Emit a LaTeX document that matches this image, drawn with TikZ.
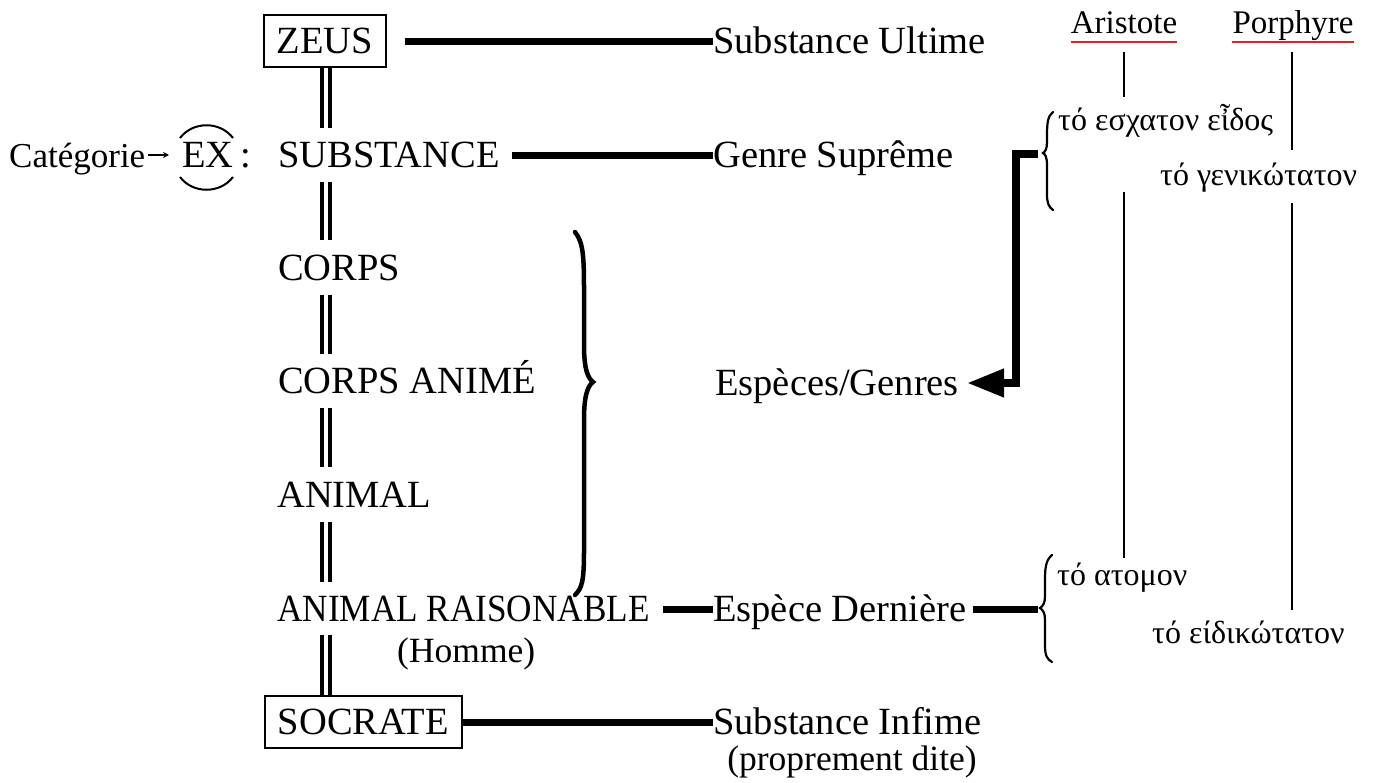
\documentclass[tikz,border=0pt]{standalone}
\usepackage{fontspec}
\usepackage{graphicx}
\setmainfont{Liberation Serif}
\usetikzlibrary{arrows.meta,calc}
\newcommand\mainsz{\fontsize{38.5}{44}\selectfont}
\newcommand\subsz{\fontsize{35.5}{40}\selectfont}
\newcommand\hdsz{\fontsize{33}{38}\selectfont}
\newcommand\catsz{\fontsize{35}{40}\selectfont}
\newcommand\grsz{\fontsize{32}{36}\selectfont}
\definecolor{ulred}{RGB}{228,30,38}
\begin{document}
\begin{tikzpicture}[x=1pt,y=-1pt,
  lbl/.style={inner sep=0pt, anchor=base west, text height=26pt, text depth=2pt, font=\mainsz},
  boxed/.style={draw, line width=1.6pt, inner xsep=13pt, inner ysep=12pt, anchor=base west, text height=26pt, text depth=2pt, font=\mainsz},
  sublbl/.style={inner sep=0pt, anchor=base, font=\subsz},
  hd/.style={inner sep=0pt, anchor=base, font=\hdsz},
  gr/.style={inner sep=0pt, anchor=base west, font=\grsz},
  thickline/.style={line width=7pt},
  dbl/.style={draw=black, double=white, double distance=4pt, line width=4pt},
  vline/.style={line width=2.4pt},
  redline/.style={draw=ulred, line width=2.5pt},
  bracepath/.style={line width=2.2pt, line cap=round},
  bigbrace/.style={line width=4.5pt, line cap=round},
  bigarrow/.style={line width=7.5pt, -{Triangle[length=37pt,width=27pt]}},
]
\useasboundingbox (0,0) rectangle (1378,782);

% left column
\node[boxed] (zeus) at (263,53) {ZEUS};
\node[lbl] (sub) at (278,167) {SUBSTANCE};
\node[lbl] (corps) at (278,280) {CORPS};
\node[lbl] (ca) at (278,393) {CORPS ANIMÉ};
\node[lbl] (animal) at (277,507) {ANIMAL};
\node[lbl] (ar) at (277,621) {\scalebox{0.914}[1]{ANIMAL RAISONABLE}};
\node[inner sep=0pt, anchor=base west, font=\subsz] (homme) at (397,662) {(Homme)};
\node[boxed] (socrate) at (264,734) {SOCRATE};

% category label
\node[inner sep=0pt, anchor=base west, font=\catsz] (cat) at (9,167) {Catégorie};
\node[lbl] (ex) at (182,167) {EX};
\node[inner sep=0pt, anchor=base west, font=\mainsz] (colon) at (240,167) {:};
\draw[line width=1.5pt, -{Stealth[length=6pt,width=6pt]}] ($(cat.base east)+(3,-12)$) -- ($(ex.base west)+(-13,-12)$);
\draw[line width=2pt] (180,138) .. controls (193,121) and (220,121) .. (233,138);
\draw[line width=2pt] (180,177) .. controls (193,194) and (220,194) .. (233,177);

% middle column
\node[lbl] (ult) at (713,53) {Substance Ultime};
\node[lbl] (genre) at (713,167) {Genre Suprême};
\node[lbl] (esp) at (715,395) {Espèces/Genres};
\node[lbl] (dern) at (713,621) {Espèce Dernière};
\node[lbl] (infime) at (713,734) {Substance Infime};
\node[sublbl] (propre) at (852,770) {(proprement dite)};

% spine
\coordinate (spine) at (325.5,0);
\draw[dbl, shorten >=13pt] (spine |- zeus.south) -- (spine |- sub.north);
\draw[dbl, shorten <=13pt, shorten >=14pt] (spine |- sub.south) -- (spine |- corps.north);
\draw[dbl, shorten <=13pt, shorten >=13pt] (spine |- corps.south) -- (spine |- ca.north);
\draw[dbl, shorten <=13pt, shorten >=14pt] (spine |- ca.south) -- (spine |- animal.north);
\draw[dbl, shorten <=13pt, shorten >=13pt] (spine |- animal.south) -- (spine |- ar.north);
\draw[dbl, shorten <=12pt, shorten >=0pt] (spine |- ar.south) -- (spine |- socrate.north);

% thick connectors
\draw[thickline, shorten <=18pt] (zeus) -- (ult);
\draw[thickline, shorten <=12pt] (sub) -- (genre);
\draw[thickline, shorten <=13pt] (ar) -- (dern);
\draw[thickline] (socrate) -- (infime);
\coordinate (b2tip) at (1038,609);
\draw[thickline, shorten <=6pt] (dern) -- (b2tip);

% big brace
\draw[bigbrace] (575,232) .. controls (583,242) and (584,255) .. (584,290) -- (584,345)
  .. controls (584,370) and (588,378) .. (593,382)
  .. controls (588,386) and (584,394) .. (584,420) -- (584,550)
  .. controls (584,582) and (582,588) .. (575,595);

% header
\node[hd] (arist) at (1124,33) {Aristote};
\node[hd] (porph) at (1293,33) {Porphyre};
\draw[redline] ($(arist.base west)+(0,9)$) -- ($(arist.base east)+(0,9)$);
\draw[redline] ($(porph.base west)+(0,9)$) -- ($(porph.base east)+(0,9)$);

% greek
\node[gr] (eschaton) at (1058,130) {τό εσχατον εἶδος};
\node[gr] (geniko) at (1160,185) {τό γενικώτατον};
\node[gr] (atomon) at (1057,585) {τό ατομον};
\node[gr] (eidiko) at (1152,643) {τό είδικώτατον};

% vertical thin lines
\coordinate (a1) at (1124,97);
\coordinate (a2) at (1124,192);
\coordinate (a3) at (1124,558);
\coordinate (p1) at (1292,150);
\coordinate (p2) at (1292,203);
\coordinate (p3) at (1292,610);
\draw[vline] ($(arist.base)+(0,19)$) -- (a1);
\draw[vline] (a2) -- (a3);
\draw[vline] ($(porph.base)+(-1,19)$) -- (p1);
\draw[vline] (p2) -- (p3);

% small braces
\draw[bracepath] (1053,112) .. controls (1048,116) and (1047,122) .. (1047,135) -- (1047,142)
  .. controls (1047,149) and (1045,152) .. (1043,153)
  .. controls (1045,154) and (1047,157) .. (1047,165) -- (1047,194)
  .. controls (1047,204) and (1049,207) .. (1053,210);
\draw[bracepath] (1052,555) .. controls (1046,560) and (1045,567) .. (1045,580) -- (1045,596)
  .. controls (1045,603) and (1043,606) .. (1040,608)
  .. controls (1043,610) and (1045,613) .. (1045,620) -- (1045,645)
  .. controls (1045,656) and (1047,659) .. (1052,662);

% bracket arrow
\coordinate (b1) at (1038,154);
\draw[bigarrow] (b1) -| ($(esp.east)+(57,0)$) -- ($(esp.east)+(8,0)$);
\end{tikzpicture}
\end{document}
